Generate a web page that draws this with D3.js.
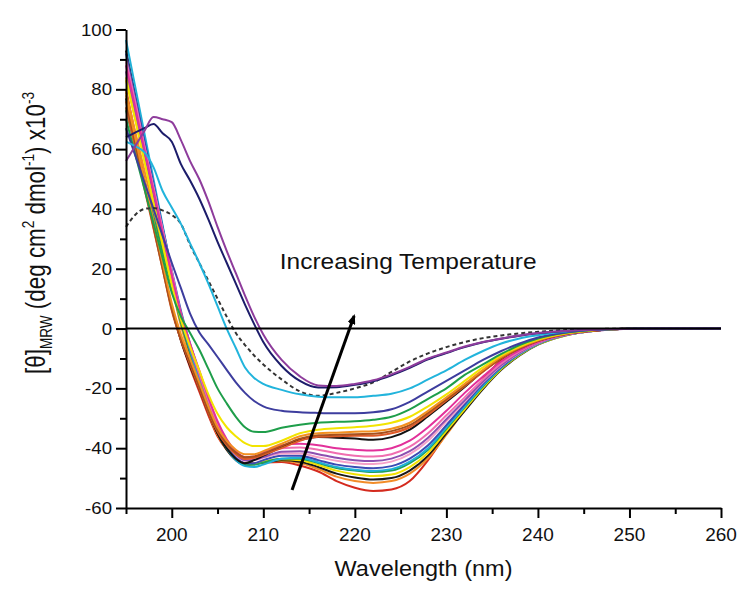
<!DOCTYPE html>
<html><head><meta charset="utf-8">
<script src="https://cdn.jsdelivr.net/npm/d3@7"></script>
<style>
html,body{margin:0;padding:0;background:#fff;}
svg{display:block;font-family:"Liberation Sans",Arial,Helvetica,sans-serif;}
</style></head><body>
<svg id="chart" width="750" height="596"></svg>
<script>
// ---------------- DATA ----------------
const wavelengths = [195,196,197,198,199,200,201,202,203,204,205,206,207,208,209,210,212,214,216,218,220,222,224,226,228,230,232,234,236,238,240,243,246,250,255,260];

const sPurple   = [56,61,66,70.7,70,69,63,56,50,42.5,34,26,18.5,11,4,-2,-10.5,-16,-19,-19.2,-18.5,-17.3,-15.3,-12.8,-10,-8,-6,-4.5,-3.3,-2.3,-1.5,-0.8,-0.4,-0.1,0,0];
const sNavy     = [64,65.5,67,68.4,65.3,62.5,55,49.5,43.5,36.5,29,22,15,8,1.5,-4.5,-12.5,-17.5,-19.7,-19.6,-18.8,-17.6,-15.6,-13.1,-10.3,-8.2,-6.2,-4.6,-3.4,-2.4,-1.6,-0.8,-0.4,-0.1,0,0];
const sCyanHigh = [62.5,61,59,54,46,40.5,35,28.5,22,15,7.5,0,-6.5,-13,-16.5,-18.5,-20.5,-22,-22.8,-23,-23,-22.5,-21.8,-20,-17,-14,-10.5,-7.5,-5,-3.3,-2.2,-1,-0.4,-0.1,0,0];
const sDashed   = [34,38,40,40.3,39.5,38,35,28,22,16,10,4,-1.5,-5.5,-9,-12,-17,-21,-22.5,-21.5,-20,-18,-14.5,-11,-8.3,-6.2,-4.5,-3.2,-2.3,-1.6,-1.1,-0.5,-0.2,0,0,0];
const sSlate    = [67,58,49,40,31,22,13.5,5,-1.2,-5.3,-9.5,-13.8,-18,-21.5,-24.2,-26,-27.5,-28,-28.2,-28.3,-28.3,-28,-27,-24.5,-21,-17.5,-14,-10.5,-7.5,-5,-3,-1.3,-0.5,-0.1,0,0];
const sGreenHi  = [70,58.4,46.8,35.2,23.6,12,4,-1.5,-7,-13.5,-20,-25,-29.5,-33,-34.5,-34.6,-33.2,-32.2,-31.5,-31.2,-31,-30.5,-29.5,-27,-23.5,-20,-15.5,-12,-8.5,-5.5,-3.3,-1.4,-0.5,-0.1,0,0];
const sYellowHi = [84,70,56,42,28,14.5,3,-6,-14,-22,-28.5,-33,-36,-38.3,-39.3,-39.3,-37.5,-35,-33.8,-33.3,-33,-32.5,-31.5,-29.5,-26,-22,-17.5,-13,-9,-6,-3.7,-1.6,-0.6,-0.1,0,0];
const sOrangeHi = [78,64,50,36,22,8.5,-2,-10,-18,-26,-33,-37.5,-40.5,-42,-42,-41,-38.5,-36,-35,-34.8,-34.5,-34.3,-33.5,-31.5,-27.5,-23,-18.5,-13.8,-9.5,-6.3,-3.9,-1.7,-0.6,-0.1,0,0];
const sBrown    = [76,62,48,34,20,6.5,-3.5,-11.5,-19.5,-27.5,-34,-38.5,-41.5,-43,-42.8,-41.8,-39.3,-36.8,-35.7,-35.5,-35.3,-35.2,-34.3,-32.3,-28.2,-23.6,-19,-14.2,-9.8,-6.5,-4,-1.8,-0.7,-0.1,0,0];
const sRust     = [74,60.5,47,33.5,20,6,-3.8,-12,-20,-28,-34.5,-39,-42,-43.6,-43.2,-42.2,-40,-37.5,-36.2,-36,-35.8,-35.8,-35,-33,-28.8,-24,-19.3,-14.4,-10,-6.6,-4.1,-1.8,-0.7,-0.1,0,0];
const sBlackHi  = [77,63,49,35,21,7,-4,-12.5,-20,-28,-35,-40,-43.5,-45,-44,-42.5,-39.6,-37.3,-36.3,-36.5,-36.8,-37.2,-36.3,-33.8,-29.3,-24.5,-19.5,-14.3,-10,-6.6,-4.1,-1.8,-0.7,-0.1,0,0];
const sMagenta  = [88,74,60,46,32,18,5,-5,-14,-23,-31,-37,-41,-43,-42.8,-41.5,-39,-38.5,-39,-40,-40.5,-40.8,-40,-37.5,-33,-27.5,-21.5,-16,-11,-7.2,-4.4,-1.9,-0.7,-0.1,0,0];
const sPink     = [90,76,61,47,33,18,4,-6,-15,-24,-32,-37.5,-41.5,-43.5,-43.3,-42,-40,-39.8,-40.5,-41.7,-42.5,-42.8,-42,-39.5,-35,-29,-23,-17,-11.7,-7.6,-4.6,-2,-0.7,-0.1,0,0];
const sViolet   = [86,72.3,58.7,45,31.3,17.7,4,-6.5,-15.5,-24.5,-32.5,-38,-42,-44,-43.8,-43,-41.2,-41,-42,-43.2,-44,-44.3,-43.5,-41,-36.5,-30.3,-24,-17.7,-12.2,-8,-4.8,-2.1,-0.8,-0.1,0,0];
const sLightPink= [89,75,61,47,33,19,5,-5.5,-15,-24,-32,-38,-42.3,-44.2,-44,-43.2,-41.8,-41.8,-43,-44.2,-45,-45.3,-44.5,-42,-37.5,-31,-24.5,-18,-12.4,-8.1,-4.9,-2.1,-0.8,-0.1,0,0];
const sBlueLo   = [92,77.5,63,48.5,34,19.5,6,-5,-14.5,-23.5,-32,-38.5,-42.8,-45,-45,-44,-42.5,-42.5,-44,-45.5,-46.3,-46.7,-46,-43.5,-39,-32.3,-25.3,-18.5,-12.8,-8.3,-5,-2.2,-0.8,-0.1,0,0];
const sCyanLo   = [96.5,81,65.5,50,34.5,19,4,-7,-17,-26,-34,-40,-44,-46,-46.3,-45.5,-43.5,-43.2,-44.7,-46.3,-47.2,-47.6,-47,-44.5,-40,-33,-26,-19,-13,-8.5,-5.1,-2.2,-0.8,-0.1,0,0];
const sGreenLo  = [73,61,49.5,37.5,25.5,14,2,-8,-17.5,-26.5,-34.5,-40,-43.5,-45.5,-45.5,-44.8,-43.5,-43.5,-45,-46.6,-47.5,-48,-47.5,-45,-40.5,-33.5,-26.3,-19.3,-13.2,-8.6,-5.2,-2.2,-0.8,-0.1,0,0];
const sYellowLo = [83,70,56.5,43,29.5,16.5,3,-7.5,-17,-26,-34,-39.8,-43.5,-45.3,-45.2,-44.5,-43.7,-44,-45.6,-47.5,-48.7,-49.3,-48.8,-46.3,-41.5,-34.3,-27,-19.8,-13.5,-8.8,-5.3,-2.3,-0.8,-0.1,0,0];
const sBlackLo  = [93,78,63,48,33,18,3,-8,-18,-27,-35,-40.5,-44,-45.5,-45.3,-44.8,-44,-44.5,-46.3,-48.5,-49.8,-50.5,-50,-47.5,-42.5,-35,-27.5,-20.2,-13.8,-9,-5.4,-2.3,-0.8,-0.1,0,0];
const sOrangeLo = [79,66,53,40,27,14,1,-9.5,-19,-28,-35.5,-40.5,-43.8,-45,-45,-44.6,-44.3,-45,-47,-49.5,-51,-51.6,-51,-48.5,-43.3,-35.5,-27.3,-19.8,-13.4,-8.6,-5.1,-2.1,-0.7,-0.1,0,0];
const sRed      = [80,65,50,35.5,21,7,-4,-13,-21,-29,-36,-40.5,-43.5,-45,-45,-44.8,-44.6,-45.8,-47.8,-51,-53.2,-54.3,-53.8,-51,-44,-35,-25.5,-17,-10.5,-6.3,-3.6,-1.5,-0.5,-0.1,0,0];

const yMajor = [-60,-40,-20,0,20,40,60,80,100];
const yMinor = [-50,-30,-10,10,30,50,70,90];
const xMajor = [200,210,220,230,240,250,260];
const xMinor = [195,205,215,225,235,245,255];

const xTitle = "Wavelength (nm)";
const annotation = "Increasing Temperature";
const arrowFrom = [213.14, -54];
const arrowTo = [219.92, 4.2];

// ---------------- SERIES TABLE ----------------
const series = [
  {v:sRed,      c:"#d42a1e"},
  {v:sOrangeLo, c:"#f28c28"},
  {v:sBlackLo,  c:"#1a1a1a"},
  {v:sYellowLo, c:"#f2e000"},
  {v:sGreenLo,  c:"#20a055"},
  {v:sCyanLo,   c:"#1fb0d8"},
  {v:sBlueLo,   c:"#3a4cb4"},
  {v:sLightPink,c:"#f5a0c8"},
  {v:sViolet,   c:"#8d4fb0"},
  {v:sPink,     c:"#f06eb0"},
  {v:sMagenta,  c:"#e2309a"},
  {v:sBlackHi,  c:"#111111"},
  {v:sRust,     c:"#e05a28"},
  {v:sBrown,    c:"#a8501c"},
  {v:sOrangeHi, c:"#f39020"},
  {v:sYellowHi, c:"#f2e400"},
  {v:sGreenHi,  c:"#1e9e4a"},
  {v:sSlate,    c:"#3d3d9e"},
  {v:sDashed,   c:"#333333", dash:"4,3"},
  {v:sCyanHigh, c:"#22b4dc"},
  {v:sNavy,     c:"#1c1c6a"},
  {v:sPurple,   c:"#8e3c9c"}
];

// ---------------- DRAW ----------------
const svg = d3.select("#chart");
const x = d3.scaleLinear().domain([195,260]).range([126,721]);
const y = d3.scaleLinear().domain([-60,100]).range([508,29.5]);

const line = d3.line().x(d=>x(d[0])).y(d=>y(d[1])).curve(d3.curveMonotoneX);

const gLines = svg.append("g");
series.forEach(s=>{
  gLines.append("path")
    .datum(wavelengths.map((w,i)=>[w,s.v[i]]))
    .attr("d", line)
    .attr("fill","none")
    .attr("stroke", s.c)
    .attr("stroke-width", 2)
    .attr("stroke-dasharray", s.dash || null)
    .attr("stroke-linejoin","round");
});

// zero line
svg.append("line")
  .attr("x1", x(195)).attr("x2", x(260))
  .attr("y1", y(0)).attr("y2", y(0))
  .attr("stroke","#000").attr("stroke-width",2);

// axes
function styleAxis(g){
  g.selectAll("path,line").attr("stroke","#000").attr("stroke-width",2);
}
svg.append("g").attr("transform",`translate(0,${y(-60)})`)
  .call(d3.axisBottom(x).tickValues(xMajor).tickSize(10).tickSizeOuter(0).tickFormat(""))
  .call(styleAxis);
svg.append("g").attr("transform",`translate(0,${y(-60)})`)
  .call(d3.axisBottom(x).tickValues(xMinor).tickSize(6).tickSizeOuter(0).tickFormat(""))
  .call(g=>g.select(".domain").remove())
  .call(styleAxis);
svg.append("g").attr("transform",`translate(${x(195)},0)`)
  .call(d3.axisLeft(y).tickValues(yMajor).tickSize(10).tickSizeOuter(0).tickFormat(""))
  .call(styleAxis);
svg.append("g").attr("transform",`translate(${x(195)},0)`)
  .call(d3.axisLeft(y).tickValues(yMinor).tickSize(6).tickSizeOuter(0).tickFormat(""))
  .call(g=>g.select(".domain").remove())
  .call(styleAxis);

// tick labels
svg.append("g").selectAll("text").data(xMajor).join("text")
  .attr("transform", d=>`translate(${x(d)},541) scale(1,0.92)`)
  .attr("text-anchor","middle").attr("font-size",19).attr("fill","#111")
  .text(d=>d);
svg.append("g").selectAll("text").data(yMajor).join("text")
  .attr("transform", d=>`translate(112,${y(d)+6}) scale(1,0.9)`)
  .attr("text-anchor","end").attr("font-size",18.6).attr("fill","#111")
  .text(d=>d);

// x title
svg.append("text")
  .attr("transform",`translate(${(x(195)+x(260))/2},576) scale(1,0.9)`)
  .attr("text-anchor","middle").attr("font-size",23.5).attr("fill","#111")
  .text(xTitle);

// y title
const yt = svg.append("text")
  .attr("transform","translate(45,233) scale(1,0.8) rotate(-90)")
  .attr("text-anchor","middle").attr("font-size",28).attr("fill","#111");
yt.append("tspan").text("[θ]");
yt.append("tspan").attr("font-size",17).attr("dy",7).text("MRW");
yt.append("tspan").attr("dy",-7).text(" (deg cm");
yt.append("tspan").attr("font-size",17).attr("dy",-11).text("2");
yt.append("tspan").attr("dy",11).text(" dmol");
yt.append("tspan").attr("font-size",17).attr("dy",-11).text("-1");
yt.append("tspan").attr("dy",11).text(") x10");
yt.append("tspan").attr("font-size",17).attr("dy",-11).text("-3");

// annotation
svg.append("text")
  .attr("transform",`translate(${x(211.8)},${y(19.8)}) scale(1,0.88)`)
  .attr("font-size",24.5).attr("fill","#111")
  .text(annotation);

// arrow
svg.append("defs").append("marker")
  .attr("id","ah").attr("viewBox","0 0 10 8").attr("refX",8).attr("refY",4)
  .attr("markerWidth",10).attr("markerHeight",8).attr("markerUnits","userSpaceOnUse")
  .attr("orient","auto")
  .append("path").attr("d","M0,0 L10,4 L0,8 Z").attr("fill","#000");
svg.append("line")
  .attr("x1",x(arrowFrom[0])).attr("y1",y(arrowFrom[1]))
  .attr("x2",x(arrowTo[0])).attr("y2",y(arrowTo[1]))
  .attr("stroke","#000").attr("stroke-width",3)
  .attr("marker-end","url(#ah)");
</script></body></html>
